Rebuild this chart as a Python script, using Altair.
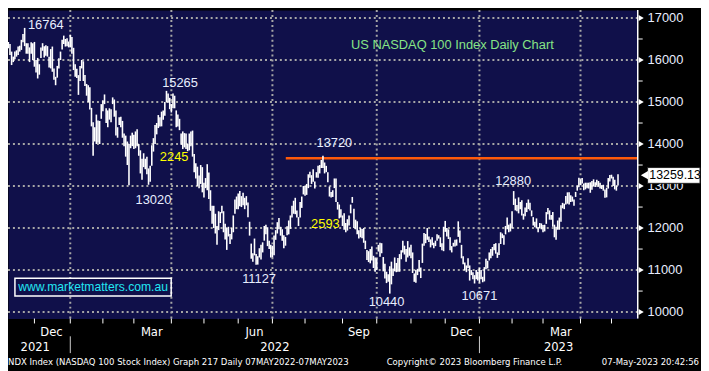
import altair as alt
import pandas as pd

# ---------------- data ----------------
month_names = ["Nov", "Dec", "Jan", "Feb", "Mar", "Apr", "May", "Jun", "Jul", "Aug",
               "Sep", "Oct", "Nov", "Dec", "Jan", "Feb", "Mar", "Apr", "May"]
month_days = [21, 22, 20, 19, 23, 20, 21, 21, 20, 23, 21, 21, 21, 21, 20, 19, 23, 19, 5]
labeled_months = [1, 4, 7, 10, 13, 16]
year_names = ["2021", "2022", "2023"]

bar_low = [
    # Nov 2021
    15780, 15850, 15920, 16150, 16300, 16280, 16120, 15880, 15950, 16020, 16080, 16120, 16200, 16240, 16420, 16330, 16150, 16150, 15950, 16150, 16000,
    # Dec 2021
    15840, 15700, 15560, 15650, 16050, 16220, 16060, 16100, 16080, 15820, 15800, 15720, 15530, 15400, 15580, 15800, 16000, 16250, 16380, 16320, 16330, 16300,
    # Jan 2022
    16300, 16150, 15760, 15600, 15570, 15170, 15500, 15800, 15500, 15380, 15150, 15000, 14820, 14420, 13720, 14060, 14000, 14030, 14000, 14600,
    # Feb 2022
    14780, 14950, 14500, 14400, 14580, 14520, 14950, 14650, 14200, 14150, 14450, 14400, 14150, 13950, 13700, 13500, 13020, 13900, 13950,
    # Mar 2022
    13880, 13900, 13950, 13720, 13300, 13150, 13450, 13400, 13280, 13030, 13100, 13480, 13820, 14000, 14230, 14380, 14420, 14420, 14580, 14670, 15000, 14980, 14830,
    # Apr 2022
    14750, 14850, 14850, 14400, 14420, 14330, 13980, 13880, 13920, 13880, 13830, 13850, 13950, 13700, 13330, 13180, 13000, 12950, 13050, 12850,
    # May 2022
    12730, 12950, 12900, 12690, 12410, 12100, 12000, 11870, 11600, 11950, 12120, 12350, 11900, 11730, 11480, 11800, 11620, 11730, 11900, 12340, 12450,
    # Jun 2022
    12450, 12520, 12500, 12540, 12450, 12540, 12260, 11820, 11270, 11200, 11350, 11127, 11130, 11300, 11250, 11420, 11700, 11850, 11570, 11500, 11300,
    # Jul 2022
    11300, 11350, 11720, 11870, 11970, 11820, 11700, 11520, 11580, 11830, 11850, 11980, 12250, 12340, 12330, 12250, 12050, 12250, 12480, 12800,
    # Aug 2022
    12770, 12790, 12950, 13200, 13050, 13100, 12940, 13200, 13200, 13300, 13430, 13430, 13300, 13330, 13090, 12750, 12730, 12740, 12950, 12620, 12440, 12230, 12250,
    # Sep 2022
    12050, 11960, 11900, 11940, 12060, 12350, 12600, 12000, 11970, 11850, 11750, 11780, 11760, 11650, 11500, 11240, 11190, 11160, 11230, 11050, 10960,
    # Oct 2022
    11000, 11440, 11320, 11400, 10970, 10800, 10690, 10720, 10440, 10660, 10860, 10970, 10950, 10960, 10960, 11260, 11420, 11370, 11200, 11300, 11340,
    # Nov 2022
    11280, 10930, 10720, 10700, 10880, 10960, 10810, 11170, 11580, 11640, 11720, 11670, 11540, 11590, 11520, 11570, 11700, 11750, 11550, 11470, 11450,
    # Dec 2022
    11910, 11800, 11740, 11470, 11420, 11560, 11560, 11580, 11790, 11650, 11280, 11140, 10990, 10950, 11050, 10750, 10880, 10780, 10680, 10780, 10750,
    # Jan 2023
    10700, 10780, 10710, 10730, 11020, 11040, 11230, 11280, 11340, 11470, 11390, 11290, 11360, 11620, 11760, 11600, 11850, 11970, 11900, 11920,
    # Feb 2023
    11990, 12550, 12420, 12400, 12350, 12450, 12300, 12200, 12280, 12380, 12450, 12420, 12280, 12060, 12020, 11990, 11900, 11990, 11970,
    # Mar 2023
    11900, 11920, 12100, 12330, 12200, 12200, 12030, 11780, 11720, 11960, 11960, 12150, 12470, 12450, 12560, 12580, 12560, 12620, 12630, 12530, 12740, 12890, 12970,
    # Apr 2023
    13020, 13060, 12900, 12920, 12950, 12940, 12840, 12910, 12990, 12980, 13020, 12980, 12940, 12930, 12890, 12720, 12730, 12940, 13110,
    # May 2023
    13180, 13000, 12920, 12890, 13010,
]

bar_high = [
    # Nov 2021
    15920, 15990, 16180, 16380, 16450, 16430, 16380, 16200, 16080, 16200, 16230, 16320, 16340, 16480, 16620, 16764, 16400, 16400, 16300, 16420, 16400,
    # Dec 2021
    16430, 16000, 16050, 15900, 16300, 16400, 16330, 16350, 16330, 16080, 16260, 16320, 15800, 15600, 15860, 16040, 16200, 16480, 16580, 16500, 16520, 16440,
    # Jan 2022
    16600, 16550, 16290, 15900, 15790, 15640, 15860, 16000, 15970, 15640, 15430, 15400, 15350, 14860, 14520, 14400, 14700, 14560, 14550, 14950,
    # Feb 2022
    15040, 15180, 14850, 14800, 14850, 14830, 15110, 15060, 14800, 14400, 14640, 14650, 14550, 14250, 14200, 14060, 14000, 14200, 14270,
    # Mar 2022
    14220, 14300, 14350, 14000, 13850, 13650, 13780, 13650, 13700, 13420, 13480, 13970, 14140, 14450, 14500, 14690, 14640, 14770, 14800, 15000, 15265, 15200, 15100,
    # Apr 2022
    14950, 15200, 15150, 14800, 14700, 14600, 14250, 14300, 14260, 14250, 14000, 14250, 14300, 14320, 13760, 13540, 13460, 13250, 13500, 13450,
    # May 2022
    13080, 13190, 13520, 13320, 12900, 12530, 12530, 12340, 12050, 12400, 12380, 12530, 12400, 12100, 12000, 12030, 11860, 12000, 12300, 12680, 12750,
    # Jun 2022
    12820, 12880, 12760, 12840, 12720, 12760, 12610, 12150, 11630, 11400, 11750, 11380, 11330, 11520, 11600, 11660, 12050, 12080, 12020, 11700, 11600,
    # Jul 2022
    11580, 11820, 11950, 12140, 12240, 12030, 11970, 11830, 11790, 12040, 12180, 12300, 12530, 12650, 12720, 12420, 12260, 12620, 12750, 13000,
    # Aug 2022
    13000, 13050, 13280, 13340, 13260, 13400, 13110, 13330, 13480, 13500, 13620, 13720, 13560, 13480, 13330, 12990, 12860, 12900, 13180, 13180, 12620, 12560, 12450,
    # Sep 2022
    12300, 12350, 12120, 12210, 12300, 12560, 12740, 12460, 12200, 12160, 11950, 12000, 11980, 12000, 11700, 11480, 11450, 11500, 11560, 11340, 11300,
    # Oct 2022
    11280, 11600, 11650, 11640, 11310, 11150, 10960, 10900, 11090, 11200, 11040, 11300, 11170, 11290, 11380, 11470, 11700, 11580, 11500, 11690, 11540,
    # Nov 2022
    11600, 11420, 10920, 11000, 11030, 11240, 11060, 11630, 11880, 11860, 12000, 11800, 11730, 11780, 11650, 11700, 11850, 11830, 11780, 11640, 12030,
    # Dec 2022
    12170, 12000, 11970, 11780, 11570, 11650, 11720, 11730, 12160, 11940, 11600, 11330, 11180, 11110, 11280, 11110, 11000, 10950, 10880, 11000, 10960,
    # Jan 2023
    11050, 11000, 10840, 11070, 11270, 11220, 11420, 11500, 11550, 11620, 11640, 11420, 11640, 11900, 11870, 11830, 12050, 12250, 12080, 12110,
    # Feb 2023
    12400, 12880, 12700, 12550, 12730, 12620, 12660, 12340, 12490, 12600, 12680, 12600, 12420, 12260, 12150, 12230, 12020, 12120, 12110,
    # Mar 2023
    12070, 12080, 12380, 12480, 12420, 12310, 12380, 12080, 12030, 12180, 12250, 12540, 12600, 12580, 12760, 12850, 12850, 12780, 12750, 12680, 12860, 13010, 13200,
    # Apr 2023
    13160, 13190, 13060, 13080, 13080, 13080, 13090, 13120, 13160, 13090, 13150, 13120, 13080, 13020, 13030, 12920, 12960, 13190, 13260,
    # May 2023
    13270, 13220, 13150, 13010, 13280,
]

grid_levels = [10000, 11000, 12000, 13000, 14000, 15000, 16000, 17000]
minor_levels = [10500, 11500, 12500, 13500, 14500, 15500, 16500]
last_price = 13259.13
resistance_level = 13660
resistance_start = 175.2

extreme_labels = ["16764", "15265", "13020", "13720", "11127", "10440", "10671", "12880"]
extreme_i = [28, 110.3, 94, 205, 158.8, 237, 294, 314.7]
extreme_v = [16835, 15463, 12663, 14028, 10781, 10247, 10388, 13110]

move_labels = ["2245", "2593"]
move_i = [106.7, 199.5]
move_v = [13699, 12098]

title_text = "US NASDAQ 100 Index Daily Chart"
url_text = "www.marketmatters.com.au"
footer_left = "NDX Index (NASDAQ 100 Stock Index) Graph 217  Daily 07MAY2022-07MAY2023"
footer_mid = "Copyright\u00a9 2023 Bloomberg Finance L.P."
footer_right = "07-May-2023 20:42:56"

# ---------------- layout ----------------
W, H = 637, 312
X0, X1 = 4.79, 391.1
PX_X = (X1 - X0) / W          # index units per pixel
PX_Y = 1000 / 42.5            # price units per pixel
Y1 = 17000 + 8 * PX_Y
Y0 = Y1 - H * PX_Y
FONT = "Liberation Sans, Arial, sans-serif"
NARROW = "Liberation Sans Narrow, Arial Narrow, DejaVu Sans Condensed, sans-serif"
LABEL_COLOR = "#e8eeff"
GRID_COLOR = "#a6a6a6"

xs = alt.Scale(domain=[X0, X1], nice=False, zero=False)
ys = alt.Scale(domain=[Y0, Y1], nice=False, zero=False)


def X(f):
    return alt.X(f, scale=xs, axis=None)


def Y(f):
    return alt.Y(f, scale=ys, axis=None)


starts = []
acc = 0
for d in month_days:
    starts.append(acc)
    acc += d
quarter_starts = [starts[k] for k in range(len(starts)) if month_names[k] in ("Jan", "Apr", "Jul", "Oct") and k > 0]
jan_starts = [starts[k] for k in range(len(starts)) if month_names[k] == "Jan"]

bars_df = pd.DataFrame({"i": list(range(len(bar_low))), "lo": bar_low, "hi": bar_high})

vgrid = alt.Chart(pd.DataFrame({"q": quarter_starts, "y1": [Y0] * len(quarter_starts), "y2": [Y1] * len(quarter_starts)})).mark_rule(
    color=GRID_COLOR, strokeWidth=2, strokeDash=[2, 3]
).encode(x=X("q:Q"), y=Y("y1:Q"), y2="y2:Q")

hgrid = alt.Chart(pd.DataFrame({"g": grid_levels, "x1": [X0] * len(grid_levels), "x2": [X1] * len(grid_levels)})).mark_rule(
    color=GRID_COLOR, strokeWidth=2, strokeDash=[2, 3]
).encode(x=X("x1:Q"), x2="x2:Q", y=Y("g:Q"))

bars = alt.Chart(bars_df).mark_rule(color="white", strokeWidth=1.6).encode(
    x=X("i:Q"), y=Y("lo:Q"), y2="hi:Q",
)

resist = alt.Chart(pd.DataFrame({"a": [resistance_start], "b": [X1], "v": [resistance_level]})).mark_rule(
    color="#ff5a0a", strokeWidth=2.5
).encode(x=X("a:Q"), x2="b:Q", y=Y("v:Q"))

# right-hand price axis
axis_line = alt.Chart(pd.DataFrame({"a": [X1], "y1": [Y0], "y2": [Y1]})).mark_rule(
    color="white", strokeWidth=1.5
).encode(x=X("a:Q"), y=Y("y1:Q"), y2="y2:Q")

minor_ticks = alt.Chart(pd.DataFrame({"m": minor_levels, "a": [X1] * len(minor_levels), "b": [X1 + 5 * PX_X] * len(minor_levels)})).mark_rule(
    color="white", strokeWidth=1
).encode(x=X("a:Q"), x2="b:Q", y=Y("m:Q"))

arrows = alt.Chart(pd.DataFrame({"g": grid_levels, "i": [X1 + 3.5 * PX_X] * len(grid_levels)})).mark_point(
    shape="triangle-right", filled=True, color="white", opacity=1, size=36
).encode(x=X("i:Q"), y=Y("g:Q"))

axis_labels = alt.Chart(pd.DataFrame({"g": grid_levels, "t": [str(g) for g in grid_levels], "i": [X1 + 10 * PX_X] * len(grid_levels)})).mark_text(
    font=FONT, fontSize=13, color=LABEL_COLOR, align="left", baseline="middle"
).encode(x=X("i:Q"), y=Y("g:Q"), text="t:N")

# bottom month ticks
month_ticks = alt.Chart(pd.DataFrame({"s": starts[1:], "y1": [Y0] * (len(starts) - 1), "y2": [Y0 - 5 * PX_Y] * (len(starts) - 1)})).mark_rule(
    color="white", strokeWidth=1
).encode(x=X("s:Q"), y=Y("y1:Q"), y2="y2:Q")

ext_txt = alt.Chart(pd.DataFrame({"t": extreme_labels, "i": extreme_i, "v": extreme_v})).mark_text(
    font=FONT, fontSize=13, color=LABEL_COLOR, align="center", baseline="middle"
).encode(x=X("i:Q"), y=Y("v:Q"), text="t:N")

move_txt = alt.Chart(pd.DataFrame({"t": move_labels, "i": move_i, "v": move_v})).mark_text(
    font=FONT, fontSize=13, color="#ffff00", align="center", baseline="middle"
).encode(x=X("i:Q"), y=Y("v:Q"), text="t:N")

title = alt.Chart(pd.DataFrame({"t": [title_text], "i": [215.2], "v": [16358]})).mark_text(
    font=FONT, fontSize=13, color="#86e486", align="left", baseline="middle"
).encode(x=X("i:Q"), y=Y("v:Q"), text="t:N")

url_box = alt.Chart(pd.DataFrame({"a": [9.04], "b": [104.9], "v1": [10805], "v2": [10381]})).mark_rect(
    fillOpacity=0, stroke="white", strokeWidth=1.5
).encode(x=X("a:Q"), x2="b:Q", y=Y("v1:Q"), y2="v2:Q")

url_txt = alt.Chart(pd.DataFrame({"t": [url_text], "i": [57], "v": [10593]})).mark_text(
    font=FONT, fontSize=12.3, color="#22e6f2", align="center", baseline="middle"
).encode(x=X("i:Q"), y=Y("v:Q"), text="t:N")

callout_box = alt.Chart(pd.DataFrame({"a": [397.15], "b": [429.3], "v1": [13440], "v2": [13064]})).mark_rect(
    fill="white", stroke="#222222", strokeWidth=1
).encode(x=X("a:Q"), x2="b:Q", y=Y("v1:Q"), y2="v2:Q")

callout_tip = alt.Chart(pd.DataFrame({"i": [395.2], "v": [last_price]})).mark_point(
    shape="triangle-left", filled=True, color="white", opacity=1, size=70
).encode(x=X("i:Q"), y=Y("v:Q"))

callout_txt = alt.Chart(pd.DataFrame({"t": [f"{last_price:.2f}"], "i": [398.2], "v": [last_price]})).mark_text(
    font=FONT, fontSize=12.5, color="black", align="left", baseline="middle"
).encode(x=X("i:Q"), y=Y("v:Q"), text="t:N")

month_df = pd.DataFrame({
    "t": [month_names[k] for k in labeled_months],
    "i": [starts[k] + month_days[k] / 2 - 0.5 for k in labeled_months],
})
month_txt = alt.Chart(month_df).mark_text(
    font=NARROW, fontSize=13, color="white", align="center", baseline="middle"
).encode(x=X("i:Q"), y=alt.value(H + 14), text="t:N")

year_centers = [(0 + jan_starts[0]) / 2, (jan_starts[0] + jan_starts[1]) / 2, (jan_starts[1] + X1) / 2]
year_txt = alt.Chart(pd.DataFrame({"t": year_names, "i": year_centers})).mark_text(
    font=NARROW, fontSize=13, color="white", align="center", baseline="middle"
).encode(x=X("i:Q"), y=alt.value(H + 29), text="t:N")

year_sep = alt.Chart(pd.DataFrame({"i": jan_starts})).mark_rule(color="#cfcfcf", strokeWidth=1).encode(
    x=X("i:Q"), y=alt.value(H + 18), y2=alt.value(H + 35)
)

foot_l = alt.Chart(pd.DataFrame({"t": [footer_left]})).mark_text(
    font=NARROW, fontSize=9.6, color="white", align="left", baseline="middle"
).encode(x=alt.value(0), y=alt.value(H + 44), text="t:N")
foot_m = alt.Chart(pd.DataFrame({"t": [footer_mid]})).mark_text(
    font=NARROW, fontSize=9.6, color="white", align="left", baseline="middle"
).encode(x=alt.value(383), y=alt.value(H + 44), text="t:N")
foot_r = alt.Chart(pd.DataFrame({"t": [footer_right]})).mark_text(
    font=NARROW, fontSize=9.6, color="white", align="right", baseline="middle"
).encode(x=alt.value(699), y=alt.value(H + 44), text="t:N")

chart = alt.layer(
    vgrid, hgrid, resist, bars, ext_txt, move_txt, title, url_box, url_txt,
    axis_line, minor_ticks, arrows, axis_labels, month_ticks,
    callout_box, callout_tip, callout_txt,
    month_txt, year_txt, year_sep, foot_l, foot_m, foot_r,
).properties(
    width=W, height=H, background="black",
    padding={"left": 0, "top": 0, "right": 64, "bottom": 51},
    autosize=alt.AutoSizeParams(type="none"),
).configure_view(fill="#10104a", strokeOpacity=0)

chart.save("out.html", embed_options={"renderer": "svg", "actions": False})
